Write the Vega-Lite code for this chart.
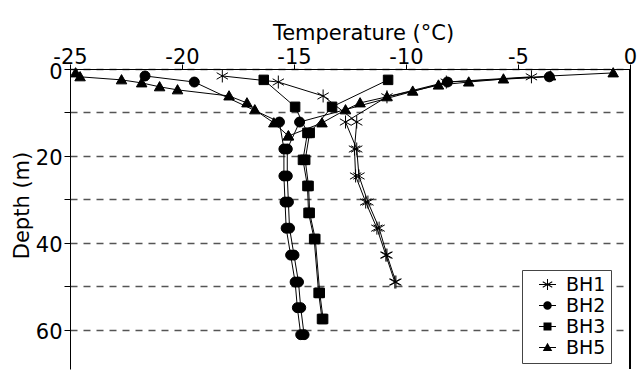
{
  "$schema": "https://vega.github.io/schema/vega-lite/v6.json",
  "width": 560,
  "height": 300,
  "autosize": "none",
  "padding": {"left": 70, "top": 69, "right": 9, "bottom": 1},
  "config": {
    "view": {"stroke": null},
    "font": "DejaVu Sans",
    "axis": {
      "domainColor": "black",
      "tickColor": "black",
      "labelColor": "black",
      "titleColor": "black",
      "labelFont": "DejaVu Sans",
      "titleFont": "DejaVu Sans",
      "titleFontWeight": "normal",
      "domainWidth": 1,
      "tickWidth": 1
    }
  },
  "data": {
    "values": [
      {"bh": "BH1", "profile": "a", "depth": 1.6, "temp": -18.2},
      {"bh": "BH1", "profile": "a", "depth": 3.0, "temp": -15.7},
      {"bh": "BH1", "profile": "a", "depth": 6.2, "temp": -13.7},
      {"bh": "BH1", "profile": "a", "depth": 12.2, "temp": -12.2},
      {"bh": "BH1", "profile": "a", "depth": 18.4, "temp": -12.3},
      {"bh": "BH1", "profile": "a", "depth": 24.6, "temp": -12.25},
      {"bh": "BH1", "profile": "a", "depth": 30.6, "temp": -11.8},
      {"bh": "BH1", "profile": "a", "depth": 36.6, "temp": -11.3},
      {"bh": "BH1", "profile": "a", "depth": 42.8, "temp": -10.9},
      {"bh": "BH1", "profile": "a", "depth": 49.0, "temp": -10.5},
      {"bh": "BH1", "profile": "b", "depth": 1.8, "temp": -4.4},
      {"bh": "BH1", "profile": "b", "depth": 3.0, "temp": -8.2},
      {"bh": "BH1", "profile": "b", "depth": 6.4, "temp": -10.85},
      {"bh": "BH1", "profile": "b", "depth": 12.2, "temp": -12.7},
      {"bh": "BH1", "profile": "b", "depth": 18.4, "temp": -12.2},
      {"bh": "BH1", "profile": "b", "depth": 24.6, "temp": -12.1},
      {"bh": "BH1", "profile": "b", "depth": 30.6, "temp": -11.7},
      {"bh": "BH1", "profile": "b", "depth": 36.6, "temp": -11.2},
      {"bh": "BH1", "profile": "b", "depth": 42.8, "temp": -10.85},
      {"bh": "BH1", "profile": "b", "depth": 49.0, "temp": -10.45},
      {"bh": "BH2", "profile": "a", "depth": 1.6, "temp": -21.65},
      {"bh": "BH2", "profile": "a", "depth": 3.0, "temp": -19.45},
      {"bh": "BH2", "profile": "a", "depth": 12.2, "temp": -15.65},
      {"bh": "BH2", "profile": "a", "depth": 18.4, "temp": -15.45},
      {"bh": "BH2", "profile": "a", "depth": 24.6, "temp": -15.45},
      {"bh": "BH2", "profile": "a", "depth": 30.6, "temp": -15.4},
      {"bh": "BH2", "profile": "a", "depth": 36.6, "temp": -15.35},
      {"bh": "BH2", "profile": "a", "depth": 42.8, "temp": -15.15},
      {"bh": "BH2", "profile": "a", "depth": 49.0, "temp": -14.95},
      {"bh": "BH2", "profile": "a", "depth": 54.9, "temp": -14.85},
      {"bh": "BH2", "profile": "a", "depth": 61.1, "temp": -14.7},
      {"bh": "BH2", "profile": "b", "depth": 1.8, "temp": -3.6},
      {"bh": "BH2", "profile": "b", "depth": 3.0, "temp": -8.15},
      {"bh": "BH2", "profile": "b", "depth": 12.2, "temp": -14.75},
      {"bh": "BH2", "profile": "b", "depth": 18.4, "temp": -15.3},
      {"bh": "BH2", "profile": "b", "depth": 24.6, "temp": -15.3},
      {"bh": "BH2", "profile": "b", "depth": 30.6, "temp": -15.25},
      {"bh": "BH2", "profile": "b", "depth": 36.6, "temp": -15.2},
      {"bh": "BH2", "profile": "b", "depth": 42.8, "temp": -15.0},
      {"bh": "BH2", "profile": "b", "depth": 49.0, "temp": -14.8},
      {"bh": "BH2", "profile": "b", "depth": 54.9, "temp": -14.7},
      {"bh": "BH2", "profile": "b", "depth": 61.1, "temp": -14.55},
      {"bh": "BH3", "profile": "a", "depth": 2.5, "temp": -16.35},
      {"bh": "BH3", "profile": "a", "depth": 8.7, "temp": -14.95},
      {"bh": "BH3", "profile": "a", "depth": 14.7, "temp": -14.4},
      {"bh": "BH3", "profile": "a", "depth": 20.9, "temp": -14.6},
      {"bh": "BH3", "profile": "a", "depth": 26.9, "temp": -14.4},
      {"bh": "BH3", "profile": "a", "depth": 33.1, "temp": -14.35},
      {"bh": "BH3", "profile": "a", "depth": 39.1, "temp": -14.1},
      {"bh": "BH3", "profile": "a", "depth": 51.5, "temp": -13.9},
      {"bh": "BH3", "profile": "a", "depth": 57.5, "temp": -13.75},
      {"bh": "BH3", "profile": "b", "depth": 2.5, "temp": -10.8},
      {"bh": "BH3", "profile": "b", "depth": 8.7, "temp": -13.3},
      {"bh": "BH3", "profile": "b", "depth": 14.7, "temp": -14.3},
      {"bh": "BH3", "profile": "b", "depth": 20.9, "temp": -14.5},
      {"bh": "BH3", "profile": "b", "depth": 26.9, "temp": -14.35},
      {"bh": "BH3", "profile": "b", "depth": 33.1, "temp": -14.3},
      {"bh": "BH3", "profile": "b", "depth": 39.1, "temp": -14.05},
      {"bh": "BH3", "profile": "b", "depth": 51.5, "temp": -13.85},
      {"bh": "BH3", "profile": "b", "depth": 57.5, "temp": -13.7},
      {"bh": "BH5", "profile": "a", "depth": 0.9, "temp": -24.75},
      {"bh": "BH5", "profile": "a", "depth": 1.8, "temp": -24.55},
      {"bh": "BH5", "profile": "a", "depth": 2.5, "temp": -22.7},
      {"bh": "BH5", "profile": "a", "depth": 3.2, "temp": -21.8},
      {"bh": "BH5", "profile": "a", "depth": 4.1, "temp": -21.0},
      {"bh": "BH5", "profile": "a", "depth": 4.8, "temp": -20.2},
      {"bh": "BH5", "profile": "a", "depth": 6.2, "temp": -17.9},
      {"bh": "BH5", "profile": "a", "depth": 7.8, "temp": -17.1},
      {"bh": "BH5", "profile": "a", "depth": 9.4, "temp": -16.75},
      {"bh": "BH5", "profile": "a", "depth": 12.4, "temp": -15.9},
      {"bh": "BH5", "profile": "a", "depth": 15.4, "temp": -15.25},
      {"bh": "BH5", "profile": "b", "depth": 0.9, "temp": -0.75},
      {"bh": "BH5", "profile": "b", "depth": 1.6, "temp": -3.55},
      {"bh": "BH5", "profile": "b", "depth": 2.3, "temp": -5.65},
      {"bh": "BH5", "profile": "b", "depth": 3.0, "temp": -7.2},
      {"bh": "BH5", "profile": "b", "depth": 3.7, "temp": -8.55},
      {"bh": "BH5", "profile": "b", "depth": 5.1, "temp": -9.7},
      {"bh": "BH5", "profile": "b", "depth": 6.4, "temp": -10.85},
      {"bh": "BH5", "profile": "b", "depth": 7.8, "temp": -12.05},
      {"bh": "BH5", "profile": "b", "depth": 9.4, "temp": -12.7},
      {"bh": "BH5", "profile": "b", "depth": 12.4, "temp": -13.75},
      {"bh": "BH5", "profile": "b", "depth": 15.4, "temp": -15.25}
    ]
  },
  "encoding": {
    "x": {
      "field": "temp",
      "type": "quantitative",
      "scale": {"domain": [-25, 0], "nice": false, "zero": false},
      "axis": {
        "orient": "top",
        "values": [-25, -20, -15, -10, -5, 0],
        "labelExpr": "'' + datum.value",
        "tickSize": 5,
        "labelFontSize": 21,
        "labelPadding": 1,
        "labelBaseline": "alphabetic",
        "labelFlush": false,
        "grid": false,
        "title": "Temperature (°C)",
        "titleFontSize": 21,
        "titleX": 293,
        "titleY": -30,
        "titleAlign": "center",
        "titleBaseline": "alphabetic"
      }
    },
    "y": {
      "field": "depth",
      "type": "quantitative",
      "scale": {"domain": [0, 69], "nice": false, "zero": false, "reverse": true},
      "axis": {
        "orient": "left",
        "values": [0, 10, 20, 30, 40, 50, 60],
        "labelExpr": "datum.value % 20 === 0 ? '' + datum.value : ''",
        "tickSize": 6,
        "labelFontSize": 21,
        "labelPadding": 2,
        "labelOffset": 3,
        "labelFlush": false,
        "grid": true,
        "gridDash": [7, 6],
        "gridColor": "#555555",
        "gridWidth": 1.3,
        "title": "Depth (m)",
        "titleFontSize": 21,
        "titleX": -48,
        "titleY": 136,
        "titleAlign": "center",
        "titleBaseline": "middle",
        "titleAngle": -90
      }
    }
  },
  "layer": [
    {
      "mark": {"type": "rule", "color": "black", "strokeWidth": 1},
      "encoding": {
        "x": {"datum": 0, "type": "quantitative"},
        "y": {"datum": 0, "type": "quantitative"},
        "y2": {"datum": 69}
      }
    },
    {
      "mark": {"type": "line", "color": "black", "strokeWidth": 1},
      "encoding": {
        "detail": [{"field": "bh"}, {"field": "profile"}],
        "order": {"field": "depth", "type": "quantitative"}
      }
    },
    {
      "mark": {"type": "point", "filled": true, "fill": "black", "stroke": "black", "strokeWidth": 1, "size": 100, "opacity": 1},
      "encoding": {
        "shape": {
          "field": "bh",
          "type": "nominal",
          "scale": {
            "domain": ["BH1", "BH2", "BH3", "BH5"],
            "range": [
              "M0,-1.3V1.3M-1.13,-0.65L1.13,0.65M-1.13,0.65L1.13,-0.65",
              "M-1,0A1,1,0,1,1,1,0A1,1,0,1,1,-1,0Z",
              "M-0.95,-0.95H0.95V0.95H-0.95Z",
              "M0,-1.05L1.05,0.8L-1.05,0.8Z"
            ]
          },
          "legend": null
        }
      }
    },
    {
      "transform": [{"filter": "false"}],
      "mark": {"type": "point", "filled": true, "fill": "black", "stroke": "black", "strokeWidth": 1, "size": 100, "opacity": 1},
      "encoding": {
        "shape": {
          "field": "bh",
          "type": "nominal",
          "scale": {
            "domain": ["BH1", "BH2", "BH3", "BH5"],
            "range": [
              "M-1.7,-0.1H1.7V0.1H-1.7ZM-0.1,-1.1H0.1V1.1H-0.1ZM0.905,0.628L-0.995,-0.472L-0.905,-0.628L0.995,0.472ZM0.995,-0.472L-0.905,0.628L-0.995,0.472L0.905,-0.628Z",
              "M-1.7,-0.1H1.7V0.1H-1.7ZM-0.85,0A0.85,0.85,0,1,1,0.85,0A0.85,0.85,0,1,1,-0.85,0Z",
              "M-1.7,-0.1H1.7V0.1H-1.7ZM-0.8,-0.8H0.8V0.8H-0.8Z",
              "M-1.7,-0.1H1.7V0.1H-1.7ZM0,-0.95L0.95,0.7L-0.95,0.7Z"
            ]
          },
          "legend": {
            "orient": "none",
            "legendX": 452,
            "legendY": 201,
            "title": null,
            "labelFont": "DejaVu Sans",
            "labelFontSize": 19,
            "labelColor": "black",
            "labelExpr": "datum.label + '     '",
            "symbolSize": 100,
            "symbolOpacity": 1,
            "symbolFillColor": "black",
            "symbolStrokeColor": "black",
            "symbolStrokeWidth": 0,
            "strokeColor": "#444444",
            "fillColor": "white",
            "padding": 5,
            "rowPadding": 1,
            "symbolOffset": 11,
            "labelOffset": 9
          }
        }
      }
    }
  ],
  "resolve": {"scale": {"shape": "independent"}}
}
